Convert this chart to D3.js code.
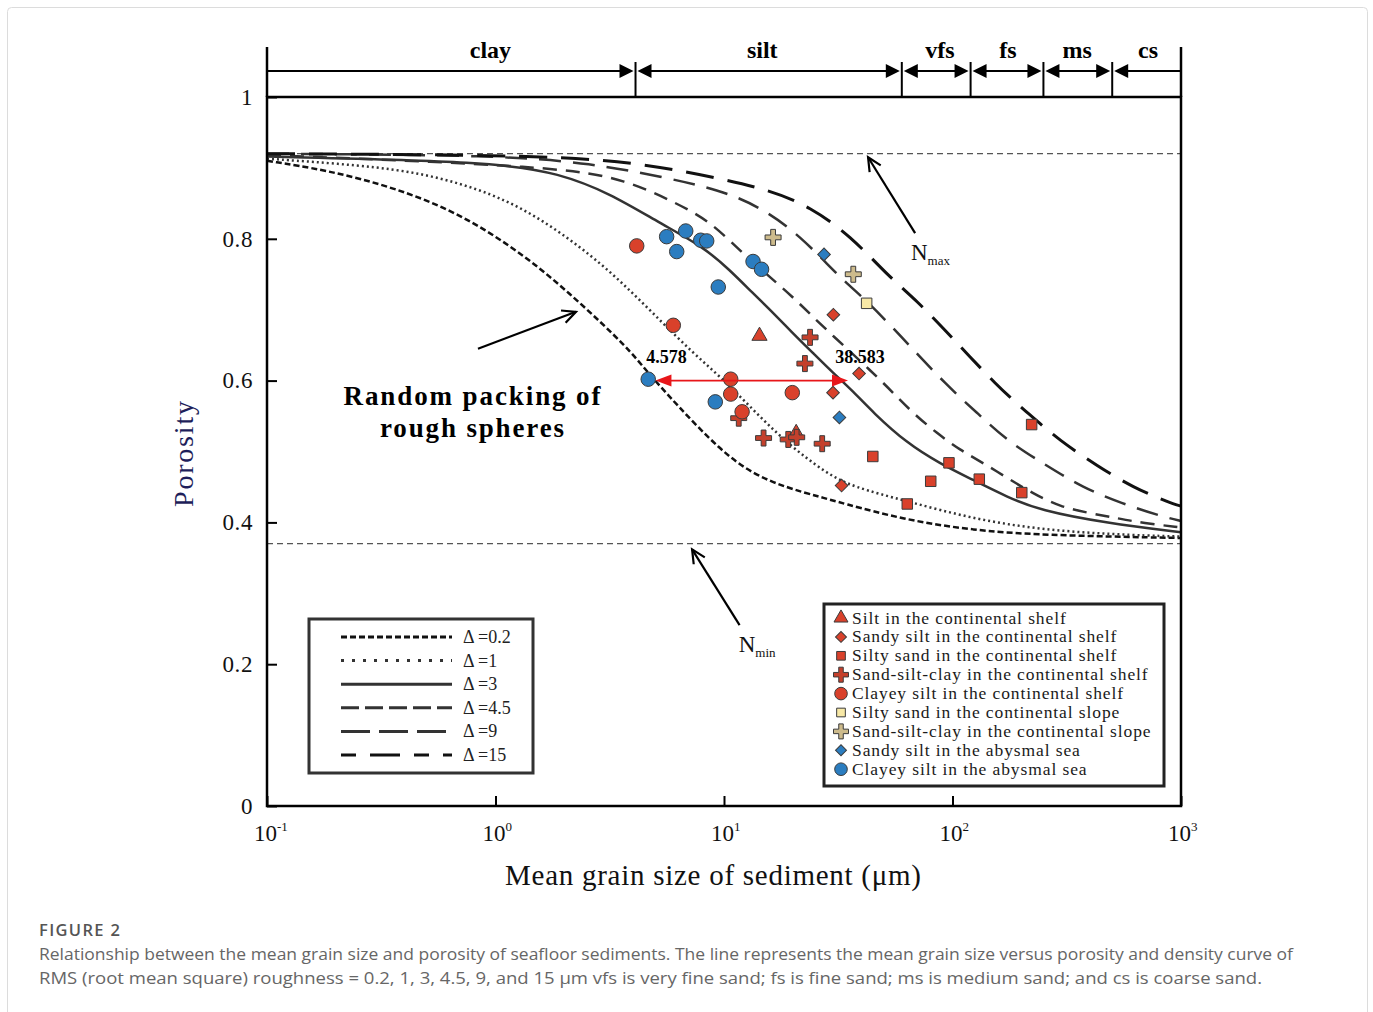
<!DOCTYPE html>
<html>
<head>
<meta charset="utf-8">
<script src="https://cdn.jsdelivr.net/npm/d3@7"></script>
<style>
body { margin: 0; background: #fff; }
</style>
</head>
<body>
<script>
// grain size (um) vs porosity, random packing of rough spheres

// size classes across the top
var sizeBounds = [0.1, 4.1, 60, 120, 250, 500, 1000];
var sizeClasses = ["clay", "silt", "vfs", "fs", "ms", "cs"];
var sizeLabelAt = [0.95, 14.7, 88, 175, 351, 718];

var xTicks = [0.1, 1, 10, 100, 1000];
var xTickExp = ["-1", "0", "1", "2", "3"];
var yTicks = [0, 0.2, 0.4, 0.6, 0.8, 1];

var nMax = 0.92, nMin = 0.37;

// RMS roughness of each curve
var roughness = [0.2, 1, 3, 4.5, 9, 15];

// curves: [grain size um, porosity]
var curveR02 = [[0.1,0.910],[0.182,0.897],[0.356,0.873],[0.70,0.836],[1.37,0.775],[2.27,0.714],[3.75,0.648],[4.65,0.611],[6.21,0.566],[9.6,0.502],[13.4,0.468],[18.8,0.449],[26.3,0.436],[32.2,0.428],[63,0.403],[123,0.389],[241,0.382],[1000,0.378]];
var curveR1 = [[0.1,0.913],[0.255,0.904],[0.50,0.892],[0.975,0.864],[1.61,0.827],[2.67,0.775],[3.75,0.732],[5.25,0.685],[7.32,0.639],[9.6,0.606],[13.4,0.559],[18.8,0.512],[28.1,0.469],[36.7,0.450],[63,0.430],[123,0.405],[241,0.390],[500,0.383],[1000,0.380]];
var curveR3 = [[0.1,0.916],[0.975,0.909],[1.92,0.892],[3.17,0.864],[5.25,0.822],[8.1,0.789],[10.6,0.756],[13.4,0.723],[15.9,0.700],[20.0,0.667],[24.5,0.639],[30.0,0.611],[36.7,0.585],[44.9,0.555],[63,0.512],[88,0.483],[123,0.460],[173,0.436],[241,0.417],[473,0.399],[1000,0.386]];
var curveR45 = [[0.1,0.918],[1.92,0.902],[3.75,0.883],[6.21,0.850],[8.68,0.825],[12.1,0.779],[15.4,0.750],[20.0,0.718],[24.5,0.690],[29.1,0.667],[44.9,0.611],[54.9,0.583],[67.2,0.554],[85.3,0.526],[108,0.502],[136,0.484],[179,0.460],[225,0.441],[295,0.422],[400,0.413],[523,0.406],[682,0.399],[1000,0.393]];
var curveR9 = [[0.1,0.920],[1.05,0.918],[2.67,0.906],[5.25,0.888],[9.6,0.869],[14.4,0.845],[21.5,0.805],[32.2,0.745],[41.8,0.714],[58.9,0.664],[95.6,0.591],[129,0.554],[173,0.515],[259,0.480],[372,0.449],[546,0.427],[834,0.408],[1000,0.402]];
var curveR15 = [[0.1,0.920],[1.73,0.918],[4.42,0.906],[8.68,0.888],[15.9,0.869],[23.8,0.845],[35.6,0.805],[53.3,0.745],[69.2,0.714],[97.5,0.664],[158,0.591],[214,0.554],[295,0.515],[429,0.480],[617,0.449],[904,0.427],[1000,0.423]];
var curves = [curveR02, curveR1, curveR3, curveR45, curveR9, curveR15];

// samples, [grain size um, porosity]
var groupNames = [
  "Silt in the continental shelf",
  "Sandy silt in the continental shelf",
  "Silty sand in the continental shelf",
  "Sand-silt-clay in the continental shelf",
  "Clayey silt in the continental shelf",
  "Silty sand in the continental slope",
  "Sand-silt-clay in the continental slope",
  "Sandy silt in the abysmal sea",
  "Clayey silt in the abysmal sea"
];
var siltShelf = [[14.3,0.663],[20.7,0.526]];
var sandySiltShelf = [[30.1,0.693],[39.0,0.610],[30.0,0.583],[32.7,0.452]];
var siltySandShelf = [[44.8,0.493],[63.4,0.426],[80.3,0.458],[96.5,0.484],[131,0.461],[201,0.442],[222,0.538]];
var sscShelf = [[23.8,0.661],[22.6,0.624],[11.6,0.547],[14.9,0.519],[19.1,0.517],[20.8,0.520],[26.9,0.511]];
var clayeySiltShelf = [[4.15,0.790],[6.0,0.678],[10.7,0.602],[10.7,0.581],[12.0,0.556],[19.9,0.583]];
var siltySandSlope = [[42.1,0.709]];
var sscSlope = [[16.4,0.802],[36.8,0.750]];
var sandySiltAbyss = [[27.4,0.778],[32.0,0.548]];
var clayeySiltAbyss = [[5.61,0.803],[6.80,0.811],[6.21,0.782],[7.91,0.798],[8.40,0.797],[9.44,0.732],[13.4,0.768],[14.6,0.757],[4.66,0.602],[9.16,0.570]];
var groups = [siltShelf, sandySiltShelf, siltySandShelf, sscShelf, clayeySiltShelf, siltySandSlope, sscSlope, sandySiltAbyss, clayeySiltAbyss];

// the 0.6 porosity span marked in red
var spanFrom = 4.578, spanTo = 38.583, spanP = 0.6;

// styles (not data)
var SERIF = "'Liberation Serif', 'Times New Roman', serif";
var shapes = ["tri", "dia", "sq", "cross", "circ", "sq", "cross", "dia", "circ"];
var fills = ["#d9412b", "#d9412b", "#d9412b", "#c4402c", "#d9412b", "#f7e8a6", "#cdbb8c", "#2b7dc0", "#2b7dc0"];
var plotDash = ["6,3", "2,3", null, "14,9", "22,12", "28,14"];
var legDash = ["6,3", "3,8", null, "18,6", "29,9", "15,14,30,14,15,14"];
var lineCol = ["#111", "#333", "#333", "#333", "#333", "#111"];
var lineW = [2.5, 2.5, 2.5, 2.5, 2.5, 3];

var W = 1373, H = 1012;
var svg = d3.select("body").append("svg").attr("width", W).attr("height", H)
  .style("font-family", SERIF);

// light border of the figure panel
svg.append("rect").attr("x", 7.5).attr("y", 7.5).attr("width", 1360).attr("height", 1010)
  .attr("rx", 4).attr("fill", "none").attr("stroke", "#dcdcdc");

var x = d3.scaleLog().domain([0.1, 1000]).range([267, 1181]);
var y = d3.scaleLinear().domain([0, 1]).range([806, 97]);

// Nmax / Nmin
svg.selectAll(".lim").data([nMax, nMin]).enter().append("line")
  .attr("x1", x(0.1)).attr("x2", x(1000))
  .attr("y1", function(d) { return y(d); }).attr("y2", function(d) { return y(d); })
  .attr("stroke", "#555").attr("stroke-width", 1.3).attr("stroke-dasharray", "6,4");

// curves
var line = d3.line()
  .x(function(d) { return x(d[0]); })
  .y(function(d) { return y(d[1]); })
  .curve(d3.curveBasis);

curves.forEach(function(c, i) {
  svg.append("path").attr("d", line(c))
    .attr("fill", "none")
    .attr("stroke", lineCol[i])
    .attr("stroke-width", lineW[i])
    .attr("stroke-dasharray", plotDash[i]);
});

// frame
svg.append("rect").attr("x", x(0.1)).attr("y", y(1))
  .attr("width", x(1000) - x(0.1)).attr("height", y(0) - y(1))
  .attr("fill", "none").attr("stroke", "#000").attr("stroke-width", 2.5);
svg.selectAll(".side").data([0.1, 1000]).enter().append("line")
  .attr("x1", function(d) { return x(d); }).attr("x2", function(d) { return x(d); })
  .attr("y1", 47).attr("y2", y(1))
  .attr("stroke", "#000").attr("stroke-width", 2.5);

// size class bar
var barY = 71, headL = 14, headW = 7;
svg.selectAll(".sep").data(sizeBounds.slice(1, -1)).enter().append("line")
  .attr("x1", function(d) { return x(d); }).attr("x2", function(d) { return x(d); })
  .attr("y1", 62).attr("y2", y(1))
  .attr("stroke", "#000").attr("stroke-width", 2);

sizeClasses.forEach(function(c, i) {
  var a = x(sizeBounds[i]), b = x(sizeBounds[i + 1]);
  var hasL = i > 0, hasR = i < sizeClasses.length - 1;
  var l0 = hasL ? a + 2 : a, l1 = hasR ? b - 2 : b;
  svg.append("line").attr("x1", l0 + (hasL ? headL - 2 : 0)).attr("x2", l1 - (hasR ? headL - 2 : 0))
    .attr("y1", barY).attr("y2", barY).attr("stroke", "#000").attr("stroke-width", 2.2);
  if (hasR) {
    svg.append("path").attr("d", "M" + l1 + "," + barY + "L" + (l1 - headL) + "," + (barY - headW) + "L" + (l1 - headL) + "," + (barY + headW) + "Z")
      .attr("fill", "#000");
  }
  if (hasL) {
    svg.append("path").attr("d", "M" + l0 + "," + barY + "L" + (l0 + headL) + "," + (barY - headW) + "L" + (l0 + headL) + "," + (barY + headW) + "Z")
      .attr("fill", "#000");
  }
  svg.append("text").attr("x", x(sizeLabelAt[i])).attr("y", 58)
    .attr("text-anchor", "middle").attr("font-size", 24).attr("font-weight", "bold")
    .text(c);
});

// y axis, ticks inward
var yAxis = d3.axisLeft(y).tickValues(yTicks).tickSize(-10).tickSizeOuter(0).tickPadding(14)
  .tickFormat(function(d) { return (d === 0 || d === 1) ? String(d) : d.toFixed(1); });
var gy = svg.append("g").attr("transform", "translate(" + x(0.1) + ",0)").call(yAxis);
gy.select(".domain").remove();
gy.attr("font-family", null).attr("font-size", 23);
gy.selectAll("line").attr("stroke", "#000").attr("stroke-width", 2);
gy.selectAll("text").attr("fill", "#111").attr("letter-spacing", 0.6);

// x axis
var xAxis = d3.axisBottom(x).tickValues(xTicks).tickSize(-10).tickSizeOuter(0).tickFormat("");
var gx = svg.append("g").attr("transform", "translate(0," + y(0) + ")").call(xAxis);
gx.select(".domain").remove();
gx.selectAll("line").attr("stroke", "#000").attr("stroke-width", 2);

xTicks.forEach(function(t, i) {
  var tx = svg.append("text").attr("x", x(t) - 13).attr("y", 841).attr("font-size", 23).attr("fill", "#111");
  tx.append("tspan").text("10");
  tx.append("tspan").attr("dy", -10).attr("font-size", 13).text(xTickExp[i]);
});

svg.append("text").attr("x", 713).attr("y", 885).attr("text-anchor", "middle")
  .attr("font-size", 29).attr("fill", "#111")
  .attr("textLength", 416).attr("lengthAdjust", "spacing")
  .text("Mean grain size of sediment (\u03bcm)");

svg.append("text").attr("transform", "translate(193,454) rotate(-90)")
  .attr("text-anchor", "middle").attr("font-size", 28).attr("fill", "#1e1e5a")
  .attr("textLength", 106).attr("lengthAdjust", "spacing").text("Porosity");

// markers
function plusPath(len, arm) {
  var a = len / 2, b = arm / 2;
  return "M" + (-b) + "," + (-a) + "H" + b + "V" + (-b) + "H" + a + "V" + b + "H" + b + "V" + a +
    "H" + (-b) + "V" + b + "H" + (-a) + "V" + (-b) + "H" + (-b) + "Z";
}
function symPath(kind, size) {
  if (kind === "cross") return plusPath(size, size * 0.3);
  var t = { tri: d3.symbolTriangle, dia: d3.symbolSquare, sq: d3.symbolSquare, circ: d3.symbolCircle }[kind];
  return d3.symbol().type(t).size(size)();
}
var plotSize = { tri: 100, dia: 80, sq: 110, cross: 16, circ: 165 };
var legSize = { tri: 85, dia: 60, sq: 75, cross: 15, circ: 125 };

function drawMarker(sel, kind, fill, px, py, size) {
  sel.append("path").attr("d", symPath(kind, size))
    .attr("transform", "translate(" + px + "," + py + ")" + (kind === "dia" ? " rotate(45)" : ""))
    .attr("fill", fill).attr("stroke", "#3b3b3b").attr("stroke-width", 1);
}

groups.forEach(function(pts, gi) {
  pts.forEach(function(p) {
    drawMarker(svg, shapes[gi], fills[gi], x(p[0]), y(p[1]), plotSize[shapes[gi]]);
  });
});

// red span arrow
var sy = y(spanP), s0 = x(spanFrom) + 9, s1 = x(spanTo) - 10;
svg.append("line").attr("x1", s0 + 12).attr("x2", s1 - 12).attr("y1", sy).attr("y2", sy)
  .attr("stroke", "#e8161a").attr("stroke-width", 1.6);
svg.append("path").attr("d", "M" + s0 + "," + sy + "L" + (s0 + 16) + "," + (sy - 6) + "L" + (s0 + 16) + "," + (sy + 6) + "Z").attr("fill", "#e8161a");
svg.append("path").attr("d", "M" + s1 + "," + sy + "L" + (s1 - 16) + "," + (sy - 6) + "L" + (s1 - 16) + "," + (sy + 6) + "Z").attr("fill", "#e8161a");
svg.append("text").attr("x", x(spanFrom) + 20).attr("y", sy - 18).attr("text-anchor", "middle")
  .attr("font-size", 18).attr("font-weight", "bold").text(spanFrom.toFixed(3));
svg.append("text").attr("x", x(spanTo) + 2).attr("y", sy - 18).attr("text-anchor", "middle")
  .attr("font-size", 18).attr("font-weight", "bold").text(spanTo.toFixed(3));

// open-head arrows for the notes
function openArrow(x1, y1, x2, y2) {
  var ang = Math.atan2(y2 - y1, x2 - x1), L = 15, spread = 0.45;
  svg.append("line").attr("x1", x1).attr("y1", y1).attr("x2", x2).attr("y2", y2)
    .attr("stroke", "#000").attr("stroke-width", 2.2);
  var p1 = [x2 - L * Math.cos(ang - spread), y2 - L * Math.sin(ang - spread)];
  var p2 = [x2 - L * Math.cos(ang + spread), y2 - L * Math.sin(ang + spread)];
  svg.append("path").attr("d", "M" + p1 + "L" + x2 + "," + y2 + "L" + p2)
    .attr("fill", "none").attr("stroke", "#000").attr("stroke-width", 2.2);
}
openArrow(x(0.838), y(0.645), x(2.25), y(0.697));
openArrow(x(68.6), y(0.808), x(42.7), y(0.915));
openArrow(x(11.7), y(0.255), x(7.25), y(0.362));

svg.append("text").attr("x", 472).attr("y", 405).attr("text-anchor", "middle")
  .attr("font-size", 27).attr("font-weight", "bold")
  .attr("textLength", 257).attr("lengthAdjust", "spacing").text("Random packing of");
svg.append("text").attr("x", 472).attr("y", 437).attr("text-anchor", "middle")
  .attr("font-size", 27).attr("font-weight", "bold")
  .attr("textLength", 184).attr("lengthAdjust", "spacing").text("rough spheres");

function nLabel(px, py, sub) {
  var t = svg.append("text").attr("x", px).attr("y", py).attr("font-size", 23).attr("fill", "#111");
  t.append("tspan").text("N");
  t.append("tspan").attr("dy", 5).attr("font-size", 13).text(sub);
}
nLabel(x(65.8), y(0.770), "max");
nLabel(x(11.6), y(0.217), "min");

// legend: roughness lines
svg.append("rect").attr("x", 309).attr("y", 619).attr("width", 224).attr("height", 154)
  .attr("fill", "#fff").attr("stroke", "#333").attr("stroke-width", 3);
roughness.forEach(function(r, i) {
  var ly = 637 + i * 23.6;
  svg.append("line").attr("x1", 341).attr("x2", 452).attr("y1", ly).attr("y2", ly)
    .attr("stroke", lineCol[i]).attr("stroke-width", 3).attr("stroke-dasharray", legDash[i]);
  svg.append("text").attr("x", 463).attr("y", ly + 6).attr("font-size", 18).attr("fill", "#222")
    .text("\u0394 =" + r);
});

// legend: sample groups
svg.append("rect").attr("x", 824).attr("y", 604).attr("width", 340).attr("height", 182)
  .attr("fill", "#fff").attr("stroke", "#222").attr("stroke-width", 3);
groupNames.forEach(function(n, i) {
  var ly = 618 + i * 18.9;
  drawMarker(svg, shapes[i], fills[i], 841, ly, legSize[shapes[i]]);
  svg.append("text").attr("x", 852).attr("y", ly + 5.5).attr("font-size", 17.5)
    .attr("letter-spacing", 0.9).attr("fill", "#1a1a1a").text(n);
});

// caption
var SANS = "'Open Sans', 'Noto Sans', sans-serif";
svg.append("text").attr("x", 39).attr("y", 936).style("font-family", SANS)
  .attr("font-size", 16.5).attr("fill", "#555").attr("font-weight", 600)
  .attr("textLength", 81).attr("lengthAdjust", "spacing").text("FIGURE 2");
svg.append("text").attr("x", 39).attr("y", 960).style("font-family", SANS)
  .attr("font-size", 16).attr("fill", "#666").attr("textLength", 1254).attr("lengthAdjust", "spacingAndGlyphs")
  .text("Relationship between the mean grain size and porosity of seafloor sediments. The line represents the mean grain size versus porosity and density curve of");
svg.append("text").attr("x", 39).attr("y", 984).style("font-family", SANS)
  .attr("font-size", 16).attr("fill", "#666").attr("textLength", 1223).attr("lengthAdjust", "spacingAndGlyphs")
  .text("RMS (root mean square) roughness = 0.2, 1, 3, 4.5, 9, and 15 \u03bcm vfs is very fine sand; fs is fine sand; ms is medium sand; and cs is coarse sand.");
</script>
</body>
</html>
